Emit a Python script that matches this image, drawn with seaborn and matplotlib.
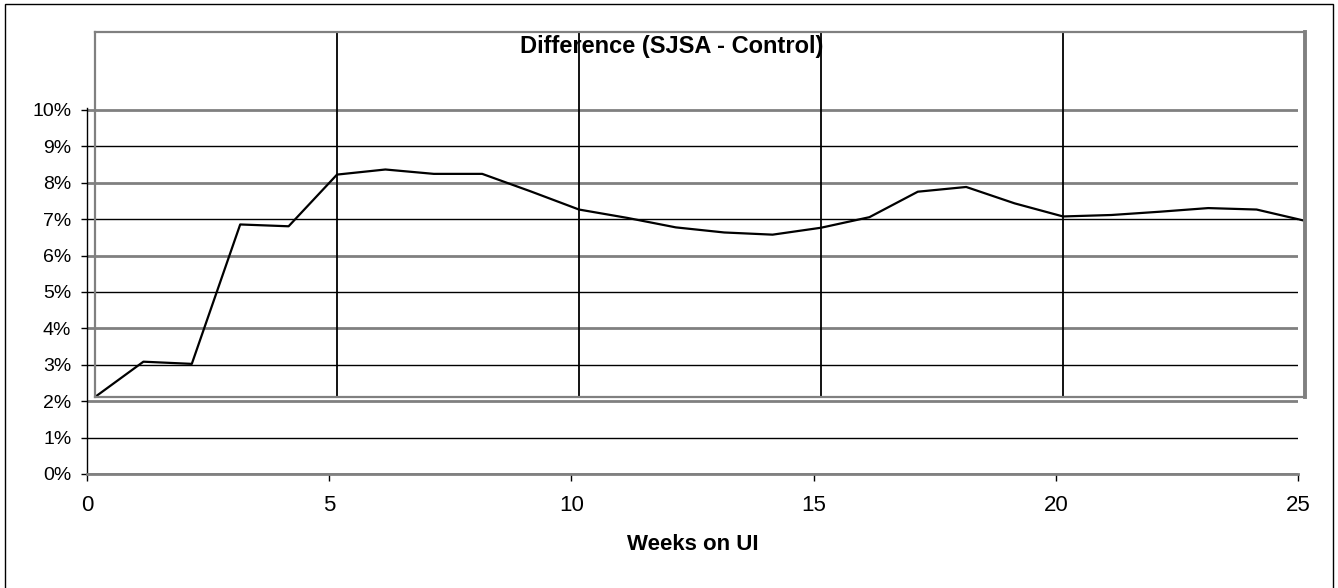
import numpy as np
import pandas as pd
import matplotlib
matplotlib.use("Agg")
import matplotlib.pyplot as plt
from matplotlib.patches import Rectangle
from matplotlib.ticker import PercentFormatter
import seaborn as sns

# ---- data ----
weeks = list(range(0, 26))
difference = [0.0212, 0.0309, 0.0303, 0.0686, 0.0681, 0.0823, 0.0837, 0.0825, 0.0825,
              0.0777, 0.0727, 0.0704, 0.0678, 0.0664, 0.0658, 0.0677, 0.0706, 0.0776,
              0.0789, 0.0744, 0.0708, 0.0712, 0.0721, 0.0731, 0.0727, 0.0696]
y_ticks = [i / 100 for i in range(0, 11)]
x_ticks = [0, 5, 10, 15, 20, 25]
title = "Difference (SJSA - Control)"
xlabel = "Weeks on UI"

df = pd.DataFrame({"week": weeks, "diff": difference})

sns.set_theme(style="white")
plt.rcParams["font.family"] = ["Liberation Sans", "DejaVu Sans"]

W, H = 1338, 588
fig = plt.figure(figsize=(W / 100, H / 100), dpi=100)
fig.patch.set_facecolor("white")

def fr(left, top, right, bottom):
    return [left / W, 1 - bottom / H, (right - left) / W, (bottom - top) / H]

# main axes (scale, gridlines, ticks)
px_per_unit = 3640.0
y_top_val = 0.1005
main_top = 474 - y_top_val * px_per_unit
ax = fig.add_axes(fr(87, main_top, 1298, 474))
ax.set_xlim(0, 25)
ax.set_ylim(0, y_top_val)
ax.set_facecolor("none")
ax.set_yticks(y_ticks)
ax.set_xticks(x_ticks)
ax.yaxis.set_major_formatter(PercentFormatter(1.0, decimals=0))
ax.yaxis.grid(True)
ax.xaxis.grid(False)
for i, gl in enumerate(ax.get_ygridlines()):
    if i % 2 == 0:
        gl.set_color("#808080")
        gl.set_linewidth(2.0)
    else:
        gl.set_color("black")
        gl.set_linewidth(1.0)
for s in ["top", "right"]:
    ax.spines[s].set_visible(False)
ax.spines["left"].set_color("black")
ax.spines["left"].set_linewidth(1.0)
ax.spines["bottom"].set_color("#808080")
ax.spines["bottom"].set_linewidth(2.0)
ax.tick_params(axis="y", direction="out", length=4.3, width=1, color="black",
               left=True, labelsize=14, pad=7, labelcolor="black")
ax.tick_params(axis="x", direction="out", length=5, width=1, color="black",
               bottom=True, labelsize=16, pad=10, labelcolor="black")
ax.set_xlabel(xlabel, fontsize=16, fontweight="bold", color="black")
ax.xaxis.label.set_va("center")
ax.xaxis.set_label_coords(0.5, (474 - 545) / (474 - main_top))

# overlay chart (line)
ov_top, ov_bot = 32, 397
ax2 = fig.add_axes(fr(95, ov_top, 1305, ov_bot))
ax2.set_facecolor("none")
y0 = 0.0212
ax2.set_ylim(y0, y0 + (ov_bot - ov_top) / px_per_unit)
ax2.set_xlim(0, 25)
sns.lineplot(data=df, x="week", y="diff", ax=ax2, color="black", linewidth=1.6)
ax2.set_xlabel("")
ax2.set_ylabel("")
ax2.set_xticks([5, 10, 15, 20])
ax2.set_yticks([])
ax2.xaxis.grid(True, color="black", linewidth=1.3)
ax2.tick_params(axis="x", length=0, labelbottom=False)
for s in ["top", "left", "bottom"]:
    ax2.spines[s].set_color("#808080")
    ax2.spines[s].set_linewidth(1.6)
ax2.spines["right"].set_color("#808080")
ax2.spines["right"].set_linewidth(2.8)
ax2.text((672 - 95) / 1210, (ov_bot - 46) / (ov_bot - ov_top), title,
         transform=ax2.transAxes, ha="center", va="center",
         fontsize=17, fontweight="bold", color="black")

# outer chart frame
fig.patches.append(Rectangle((5 / W, -0.02), 1328 / W, (H - 4) / H + 0.02,
                             transform=fig.transFigure, fill=False,
                             edgecolor="black", linewidth=1.0))

fig.savefig("out.png", dpi=100, facecolor="white")
